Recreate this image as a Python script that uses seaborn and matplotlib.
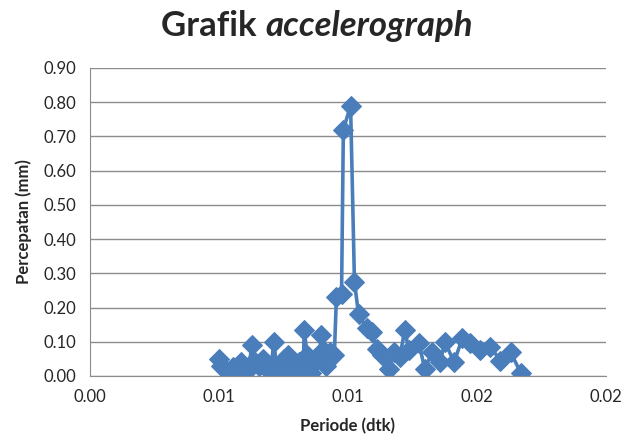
import matplotlib
matplotlib.use("Agg")
import matplotlib.pyplot as plt
import seaborn as sns
import pandas as pd

periode = [0.00499, 0.00507, 0.00522, 0.00538, 0.00554, 0.00569, 0.00585, 0.00600,
           0.00616, 0.00628, 0.00639, 0.00655, 0.00671, 0.00686, 0.00702, 0.00713,
           0.00725, 0.00737, 0.00752, 0.00768, 0.00780, 0.00795, 0.00811, 0.00827,
           0.00830, 0.00842, 0.00858, 0.00873, 0.00889, 0.00897, 0.00904, 0.00916,
           0.00932, 0.00947, 0.00955, 0.00975, 0.00982, 0.01010, 0.01025, 0.01041,
           0.01072, 0.01092, 0.01111, 0.01131, 0.01158, 0.01177, 0.01201, 0.01220,
           0.01236, 0.01275, 0.01298, 0.01326, 0.01357, 0.01376, 0.01411, 0.01443,
           0.01474, 0.01513, 0.01552, 0.01591, 0.01630, 0.01669]
percepatan = [0.05, 0.03, 0.02, 0.01, 0.025, 0.02, 0.04, 0.01,
              0.03, 0.09, 0.04, 0.03, 0.05, 0.02, 0.03, 0.10,
              0.01, 0.005, 0.05, 0.06, 0.03, 0.02, 0.04, 0.02,
              0.135, 0.06, 0.01, 0.04, 0.06, 0.12, 0.075, 0.03,
              0.07, 0.06, 0.23, 0.24, 0.72, 0.79, 0.275, 0.18,
              0.14, 0.13, 0.08, 0.06, 0.02, 0.07, 0.055, 0.135,
              0.075, 0.095, 0.02, 0.07, 0.04, 0.10, 0.04, 0.11,
              0.095, 0.075, 0.085, 0.045, 0.07, 0.01]

x_ticks = [0.0, 0.005, 0.01, 0.015, 0.02]
x_labels = ["0.00", "0.01", "0.01", "0.02", "0.02"]
y_ticks = [0.0, 0.1, 0.2, 0.3, 0.4, 0.5, 0.6, 0.7, 0.8, 0.9]

df = pd.DataFrame({"periode": periode, "percepatan": percepatan})

sns.set_style("white")
plt.rcParams["font.family"] = ["Lato", "DejaVu Sans"]

fig = plt.figure(figsize=(6.28, 4.41), dpi=100)
ax = fig.add_axes([90 / 628, 65 / 441, 516 / 628, 308 / 441])

blue = "#4A7EBB"
sns.lineplot(data=df, x="periode", y="percepatan", sort=False, ax=ax,
             color=blue, linewidth=2.6, marker="D", markersize=10,
             markeredgecolor=blue, markerfacecolor=blue)

ax.set_xlim(0, 0.02)
ax.set_ylim(0, 0.9)
ax.set_xticks(x_ticks)
ax.set_xticklabels(x_labels)
ax.set_yticks(y_ticks)
ax.set_yticklabels([f"{v:.2f}" for v in y_ticks])
ax.yaxis.grid(True, color="#8c8c8c", linewidth=1)
ax.xaxis.grid(False)
ax.set_axisbelow(True)
for s in ["top", "right"]:
    ax.spines[s].set_visible(False)
ax.spines["left"].set_color("#8c8c8c")
ax.spines["bottom"].set_color("#8c8c8c")
ax.tick_params(axis="y", length=4, color="#8c8c8c", labelsize=12, pad=6)
ax.tick_params(axis="x", length=0, labelsize=12, pad=9)

ax.set_xlabel("Periode (dtk)", fontsize=12, fontweight="bold", labelpad=10)
ax.set_ylabel("Percepatan (mm)", fontsize=12, fontweight="bold", labelpad=8)

fig.text(0.422, 0.94, "Grafik ", fontsize=25, fontweight="bold", ha="right", va="center")
fig.text(0.422, 0.94, "accelerograph", fontsize=25, fontweight="bold", style="italic",
         ha="left", va="center")

fig.savefig("out.png", dpi=100)
